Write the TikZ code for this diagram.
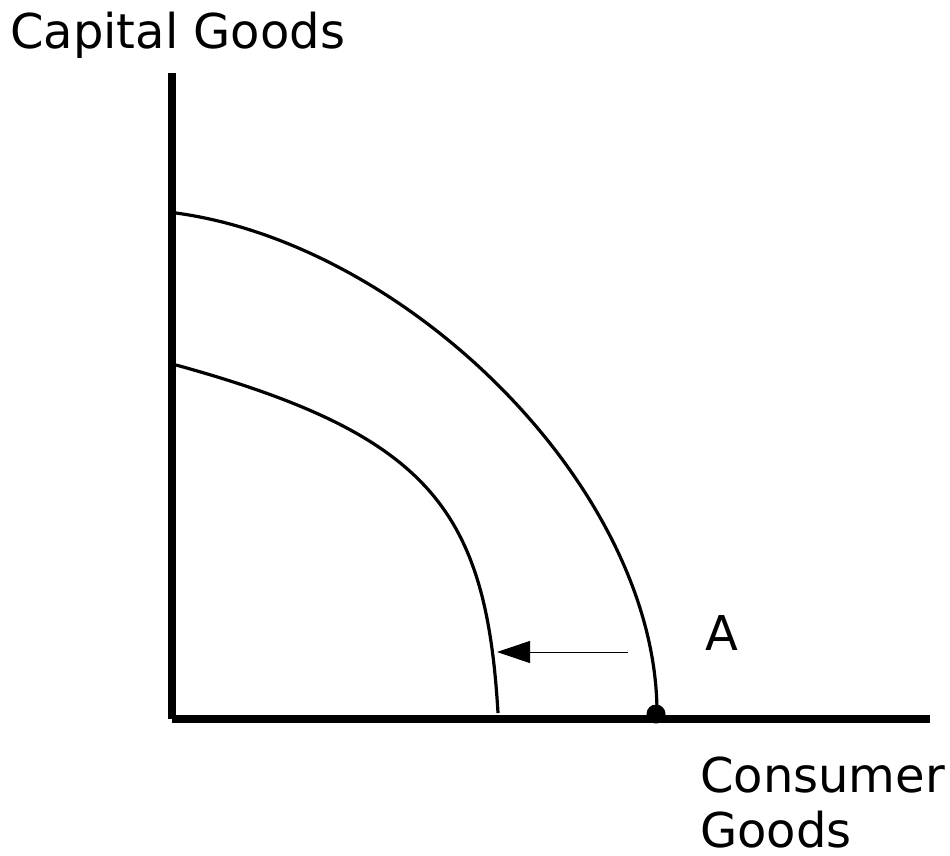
\documentclass[tikz,border=0pt]{standalone}
\usepackage{fontspec}
\setmainfont{DejaVu Sans}
\usetikzlibrary{arrows.meta}
\begin{document}
\begin{tikzpicture}[x=1pt,y=-1pt,
  every node/.style={font=\fontsize{48}{49}\selectfont,inner sep=0pt},
  axis/.style={line width=8pt},
  ppf/.style={line width=3.2pt},
  shiftarrow/.style={line width=1pt,-{Triangle[length=33pt,width=22pt]}}]
  \useasboundingbox (0,0) rectangle (950,856);
  % axes
  \draw[axis] (172,73)--(172,719);
  \draw[axis] (172,719)--(930,719);
  \node[anchor=base west] (ylab) at (10,49) {Capital Goods};
  \node[anchor=base west,align=left] (xlab) at (700,847) {Consumer\\[6pt]Goods};
  % frontiers
  \draw[ppf] (176,213) .. controls (410,245) and (657,490) .. (657,713);
  \draw[ppf] (176,365) .. controls (430,435) and (486,510) .. (498,713);
  \fill (656,714) circle (9.5pt);
  \node[anchor=base west] (ptA) at (705,650) {A};
  \coordinate (from) at (628,652);
  \coordinate (to) at (497,652);
  \draw[shiftarrow] (from)--(to);
\end{tikzpicture}
\end{document}
